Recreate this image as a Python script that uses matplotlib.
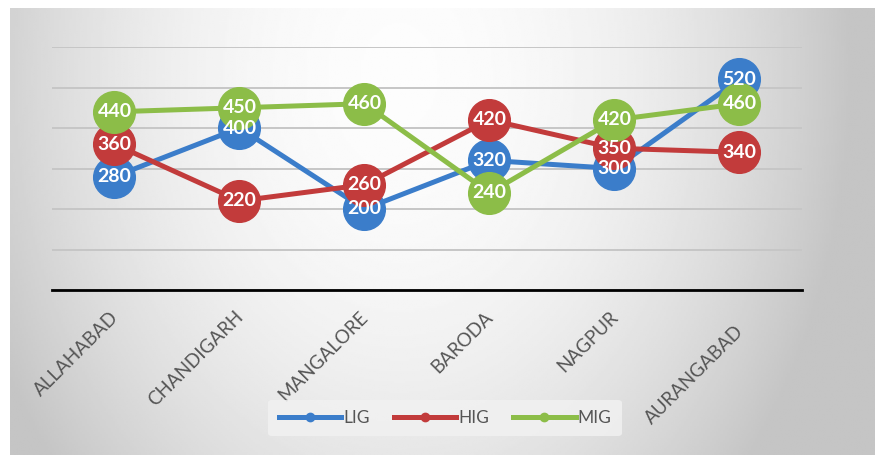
import numpy as np
import matplotlib.pyplot as plt
from matplotlib.transforms import ScaledTranslation

cities = ["ALLAHABAD", "CHANDIGARH", "MANGALORE", "BARODA", "NAGPUR", "AURANGABAD"]
lig = [280, 400, 200, 320, 300, 520]
hig = [360, 220, 260, 420, 350, 340]
mig = [440, 450, 460, 240, 420, 460]

series = [("LIG", lig, "#3b7dca"), ("HIG", hig, "#c23b3b"), ("MIG", mig, "#8cbd48")]

plt.rcParams['font.family'] = ['Lato', 'DejaVu Sans']

fig = plt.figure(figsize=(8.75, 4.57), dpi=100, facecolor="white")

# grey radial gradient panel behind the chart
bg = fig.add_axes([10/875, 2/457, 865/875, 447/457], zorder=-5)
gx, gy = np.meshgrid(np.linspace(-1, 1, 400), np.linspace(1, -1, 220))
r = np.sqrt(((gx + 0.1) / 1.0) ** 2 + ((gy - 0.7) / 2.6) ** 2)
shade = np.clip(0.99 - 0.2 * r ** 2, 0.77, 1.0)
bg.imshow(shade, cmap="gray", vmin=0, vmax=1, aspect="auto", extent=(0, 1, 0, 1))
bg.axis("off")

ax = fig.add_axes([52/875, 167/457, 750/875, 243/457])
ax.patch.set_alpha(0)
x = np.arange(len(cities))
for name, vals, col in series:
    ax.plot(x, vals, color=col, lw=3.6, marker="o", ms=30, mec=col, mfc=col, label=name, zorder=3)
    for xi, v in zip(x, vals):
        ax.text(xi, v, str(v), color="white", fontsize=14, fontweight="bold",
                ha="center", va="center", zorder=4)

ax.set_xlim(-0.5, len(cities) - 0.5)
ax.set_ylim(0, 600)
ax.set_yticks(range(0, 601, 100))
ax.yaxis.grid(True, color="#c6c6c6", lw=1.4)
ax.set_axisbelow(True)
ax.tick_params(left=False, labelleft=False, bottom=False)
for s in ["top", "right", "left"]:
    ax.spines[s].set_visible(False)
ax.spines["bottom"].set_color("black")
ax.spines["bottom"].set_linewidth(2)

ax.set_xticks(x)
ax.set_xticklabels(cities, rotation=45, ha="right", va="center", rotation_mode="anchor",
                   fontsize=13.5, color="#555555")
ax.tick_params(axis="x", pad=14)
for lab in ax.get_xticklabels():
    lab.set_transform(lab.get_transform() + ScaledTranslation(0.01, 0, fig.dpi_scale_trans))
last = ax.get_xticklabels()[-1]
last.set_transform(last.get_transform() + ScaledTranslation(0, -0.14, fig.dpi_scale_trans))

leg = ax.legend(loc="center", bbox_to_anchor=(445/875, 1 - 418/457), bbox_transform=fig.transFigure,
                ncol=3, frameon=True, fontsize=12.5, markerscale=0.2, handlelength=3.6,
                columnspacing=1.4, handletextpad=0.1, borderpad=0.6)
leg.set_zorder(6)
leg.get_frame().set_facecolor("#f1f1f1")
leg.get_frame().set_edgecolor("none")
leg.get_frame().set_alpha(0.85)
for t in leg.get_texts():
    t.set_color("#555555")

fig.savefig("out.png", dpi=100, facecolor="white")
